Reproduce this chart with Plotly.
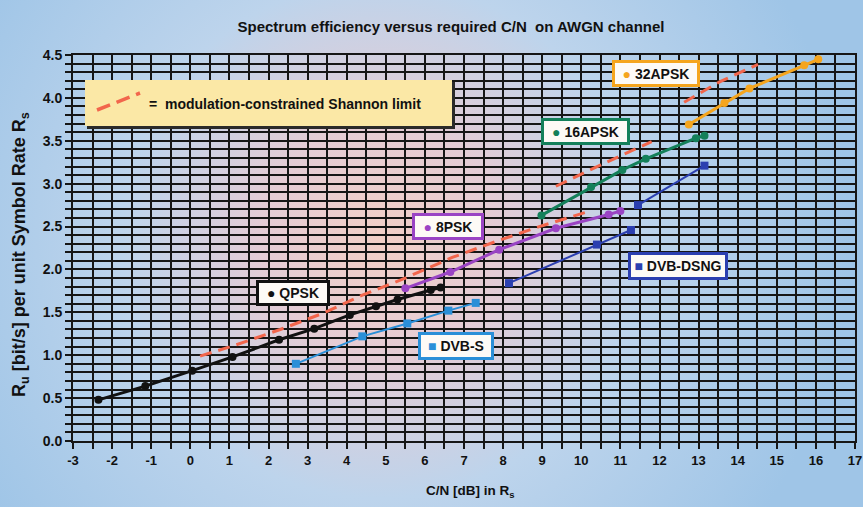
import base64
import plotly.graph_objects as go

# ---------------- data ----------------
qpsk_x = [-2.35, -1.15, 0.05, 1.08, 2.27, 3.17, 4.08, 4.75, 5.30, 6.15, 6.40]
qpsk_y = [0.48, 0.64, 0.82, 0.98, 1.18, 1.31, 1.47, 1.57, 1.65, 1.76, 1.79]

psk8_x = [5.50, 6.65, 7.90, 9.35, 10.70, 11.00]
psk8_y = [1.78, 1.97, 2.23, 2.48, 2.64, 2.68]

apsk16_x = [8.98, 10.25, 11.05, 11.65, 12.93, 13.15]
apsk16_y = [2.63, 2.96, 3.16, 3.29, 3.53, 3.56]

apsk32_x = [12.75, 13.66, 14.30, 15.70, 16.06]
apsk32_y = [3.69, 3.94, 4.11, 4.38, 4.45]

dvbs_x = [2.70, 4.40, 5.55, 6.60, 7.30]
dvbs_y = [0.90, 1.22, 1.37, 1.52, 1.61]

dsng_8psk_x = [8.15, 10.40, 11.27]
dsng_8psk_y = [1.84, 2.29, 2.46]
dsng_16qam_x = [11.45, 13.15]
dsng_16qam_y = [2.75, 3.21]

shannon_a_x = [0.25, 1.10, 2.30, 3.40, 4.40, 5.40, 6.70, 7.90, 9.00, 10.15]
shannon_a_y = [0.99, 1.11, 1.30, 1.49, 1.70, 1.88, 2.14, 2.34, 2.51, 2.67]
shannon_b_x = [9.35, 10.50, 11.80]
shannon_b_y = [2.97, 3.22, 3.49]
shannon_c_x = [12.63, 13.55, 14.52]
shannon_c_y = [3.95, 4.19, 4.39]

x_ticks = list(range(-3, 18))
y_ticks = [0.0, 0.5, 1.0, 1.5, 2.0, 2.5, 3.0, 3.5, 4.0, 4.5]

# ---------------- styling ----------------
C_QPSK = "#111111"
C_8PSK = "#9a44c4"
C_16 = "#14805a"
C_32 = "#f5a51e"
C_DVBS = "#2a8fd8"
C_DSNG = "#2b3fb0"
C_SHAN = "#f2664c"
FONT = "Liberation Sans, Arial, sans-serif"

W, H = 863, 507
L, R, T, B = 73, 8, 55, 66

fig = go.Figure()

def add_shannon(xs, ys):
    fig.add_trace(go.Scatter(x=xs, y=ys, mode="lines",
                             line=dict(color=C_SHAN, width=3, dash="12px,7px"),
                             hoverinfo="skip", showlegend=False))

add_shannon(shannon_a_x, shannon_a_y)
add_shannon(shannon_b_x, shannon_b_y)
add_shannon(shannon_c_x, shannon_c_y)

def add_series(xs, ys, color, symbol, lw=2.5, ms=7):
    fig.add_trace(go.Scatter(x=xs, y=ys, mode="lines+markers",
                             line=dict(color=color, width=lw),
                             marker=dict(color=color, size=ms, symbol=symbol),
                             showlegend=False))

add_series(dvbs_x, dvbs_y, C_DVBS, "square", lw=2, ms=8)
add_series(dsng_8psk_x, dsng_8psk_y, C_DSNG, "square", lw=2, ms=8)
add_series(dsng_16qam_x, dsng_16qam_y, C_DSNG, "square", lw=2, ms=8)
add_series(qpsk_x, qpsk_y, C_QPSK, "circle", lw=3, ms=8)
add_series(psk8_x, psk8_y, C_8PSK, "circle", lw=3, ms=8)
add_series(apsk16_x, apsk16_y, C_16, "circle", lw=3, ms=8)
add_series(apsk32_x, apsk32_y, C_32, "circle", lw=3, ms=8)

# ---------------- background gradient ----------------
svg = f'''<svg xmlns="http://www.w3.org/2000/svg" width="{W}" height="{H}">
<defs>
<radialGradient id="g" cx="380" cy="240" r="470" gradientUnits="userSpaceOnUse">
<stop offset="0" stop-color="#f2cfc6"/>
<stop offset="0.25" stop-color="#e4ccd5"/>
<stop offset="0.55" stop-color="#bdd4ec"/>
<stop offset="1" stop-color="#9fc5e7"/>
</radialGradient>
</defs>
<rect x="0" y="0" width="{W}" height="{H}" fill="url(#g)"/>
</svg>'''
src = "data:image/svg+xml;base64," + base64.b64encode(svg.encode()).decode()
pw = W - L - R
ph = H - T - B
fig.add_layout_image(dict(source=src, xref="paper", yref="paper",
                          x=-L / pw, y=1 + T / ph, sizex=W / pw, sizey=H / ph,
                          xanchor="left", yanchor="top", sizing="stretch",
                          layer="below"))

# ---------------- label boxes ----------------
def px2x(px):
    return -3 + (px - L) / pw * 20

def py2y(py):
    return 4.5 * (H - B - py) / ph

def label(text, color, sym, cx, cy, w, h):
    fig.add_annotation(x=px2x(cx), y=py2y(cy), xref="x", yref="y",
                       text=f'<span style="color:{color}">{sym}</span> {text}',
                       showarrow=False, font=dict(family=FONT, size=14, color="#111"),
                       bgcolor="#fdfaf6", bordercolor=color, borderwidth=3,
                       borderpad=1, width=w - 8, height=h - 8,
                       xanchor="center", yanchor="middle", align="center")

label("<b>QPSK</b>", C_QPSK, "●", 293, 292.5, 74, 26)
label("<b>8PSK</b>", C_8PSK, "●", 447.5, 226.7, 72, 27)
label("<b>16APSK</b>", C_16, "●", 585, 131.7, 89, 27)
label("<b>32APSK</b>", C_32, "●", 656, 73.3, 88, 27)
label("<b>DVB-S</b>", C_DVBS, "■", 455.7, 345.8, 76, 28)
label("<b>DVB-DSNG</b>", C_DSNG, "■", 678, 266, 100, 28)

# Shannon-limit legend box
fig.add_shape(type="rect", xref="x", yref="y",
              x0=px2x(87), x1=px2x(455), y0=py2y(129), y1=py2y(82),
              fillcolor="#2a2a2a", line=dict(width=0), layer="above")
fig.add_shape(type="rect", xref="x", yref="y",
              x0=px2x(85), x1=px2x(452), y0=py2y(126), y1=py2y(80),
              fillcolor="#fbe8a6", line=dict(width=0), layer="above")
fig.add_shape(type="line", xref="x", yref="y",
              x0=px2x(97), x1=px2x(140), y0=py2y(110), y1=py2y(93),
              line=dict(color=C_SHAN, width=3.5, dash="14px,7px"), layer="above")
fig.add_annotation(x=px2x(147), y=py2y(104), xref="x", yref="y",
                   text="<b>=  modulation-constrained Shannon limit</b>",
                   showarrow=False, xanchor="left", yanchor="middle",
                   font=dict(family=FONT, size=14, color="#111"))

# axis titles as positioned annotations
fig.add_annotation(xref="paper", yref="paper", x=(20 - L) / pw, y=(H - B - 255) / ph,
                   text="<b>R<sub>u</sub> [bit/s] per unit Symbol Rate R<sub>s</sub></b>",
                   textangle=-90, showarrow=False, xanchor="center", yanchor="middle",
                   font=dict(family=FONT, size=18, color="#111"))
fig.add_annotation(xref="paper", yref="paper", x=(470 - L) / pw, y=(H - B - 491) / ph,
                   text="<b>C/N [dB] in R<sub>s</sub></b>",
                   showarrow=False, xanchor="center", yanchor="middle",
                   font=dict(family=FONT, size=13.5, color="#111"))

# ---------------- layout ----------------
grid_c = "#161616"
fig.update_layout(
    width=W, height=H,
    margin=dict(l=L, r=R, t=T, b=B, autoexpand=False),
    paper_bgcolor="#a6cae9",
    plot_bgcolor="rgba(0,0,0,0)",
    title=dict(text="<b>Spectrum efficiency versus required C/N  on AWGN channel</b>",
               x=451 / W, xanchor="center", y=1 - 27 / H, yanchor="middle",
               font=dict(family=FONT, size=15, color="#111")),
    font=dict(family=FONT, color="#111"),
    xaxis=dict(range=[-3, 17], tickmode="array", tickvals=x_ticks,
               ticktext=[f"<b>{v}</b>" for v in x_ticks],
               tickfont=dict(size=13), ticks="outside", ticklen=6,
               tickwidth=2, tickcolor=grid_c, automargin=False,
               showgrid=True, gridcolor=grid_c, gridwidth=2,
               minor=dict(dtick=0.5, showgrid=True, gridcolor=grid_c, gridwidth=2,
                          ticks="outside", ticklen=6, tickwidth=2, tickcolor=grid_c),
               showline=True, linecolor=grid_c, linewidth=2, mirror=True,
               zeroline=False),
    yaxis=dict(range=[0, 4.5], tickmode="array", tickvals=y_ticks,
               ticktext=[f"<b>{v:.1f}</b>" for v in y_ticks],
               tickfont=dict(size=14), ticks="outside", ticklen=6,
               tickwidth=2, tickcolor=grid_c, automargin=False,
               showgrid=True, gridcolor=grid_c, gridwidth=2,
               minor=dict(dtick=0.1, showgrid=True, gridcolor=grid_c, gridwidth=2,
                          ticks="outside", ticklen=6, tickwidth=2, tickcolor=grid_c),
               showline=True, linecolor=grid_c, linewidth=2, mirror=True,
               zeroline=False),
)

fig.write_html("out.html", config={"displayModeBar": False},
               post_script="document.body.style.margin='0px';document.body.style.padding='0px';")
